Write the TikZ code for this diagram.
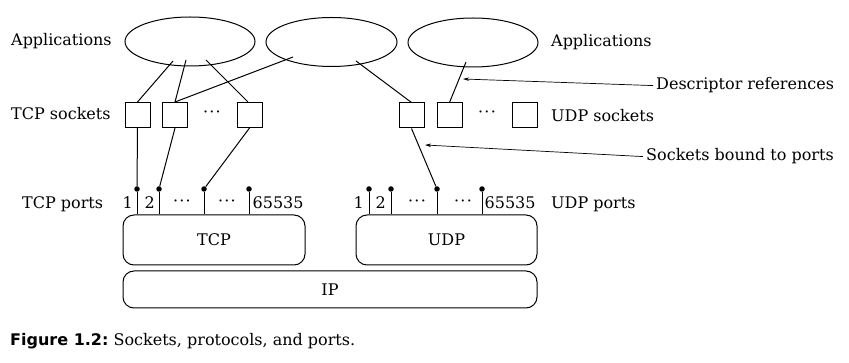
\documentclass[tikz,border=0pt]{standalone}
\usepackage{fontspec}
\setmainfont{DejaVu Serif}
\newfontfamily\capsans{DejaVu Sans}
\usetikzlibrary{shapes.geometric,arrows.meta}
\newcommand{\portdots}{·\kern1.2pt·\kern1.2pt·}
\begin{document}
\begin{tikzpicture}[x=1pt,y=-1pt,
  every node/.style={font=\fontsize{16}{19}\selectfont},
  app/.style={draw, ellipse, minimum width=130, minimum height=49, inner sep=0, line width=1pt},
  sock/.style={draw, minimum size=25, inner sep=0, line width=1pt},
  proto/.style={draw, rounded corners=11, line width=1pt, inner sep=0},
  link/.style={line width=1pt},
  port/.style={circle, fill, inner sep=0, minimum size=5.5},
  note/.style={line width=0.7pt, -{Stealth[length=6,width=3.5]}},
  lbl/.style={inner sep=0, anchor=base west},
  plbl/.style={inner sep=0}
]
\useasboundingbox (0,0) rectangle (849,363);

% applications
\node[app] (app1) at (190,41.5) {};
\node[app, minimum width=131] (app2) at (331.5,42) {};
\node[app] (app3) at (473,42.5) {};

% sockets
\node[sock] (t1) at (137.5,115) {};
\node[sock] (t2) at (175,115) {};
\node[plbl, anchor=base] (tdots) at (212,118) {\portdots};
\node[sock] (t3) at (249.5,115) {};
\node[sock] (u1) at (411.5,115.5) {};
\node[sock] (u2) at (449.5,115.5) {};
\node[plbl, anchor=base] (udots) at (487,118) {\portdots};
\node[sock] (u3) at (525,115.5) {};

% protocol boxes
\node[proto, minimum width=182, minimum height=50] (tcp) at (214,240) {TCP};
\node[proto, minimum width=181, minimum height=50] (udp) at (446.5,240) {UDP};
\node[proto, minimum width=414, minimum height=37] (ip) at (330,289.5) {IP};

% ports
\node[port] (tp1) at (137,189) {};
\node[port] (tp2) at (159,189) {};
\node[port] (tp3) at (204,189) {};
\node[port] (tp4) at (249,189) {};
\node[port] (up1) at (369,189) {};
\node[port] (up2) at (391,189) {};
\node[port] (up3) at (437,189) {};
\node[port] (up4) at (482,189) {};
\foreach \p in {tp1,tp2,tp3,tp4}
  \draw[link] (\p) -- (\p |- tcp.north);
\foreach \p in {up1,up2,up3,up4}
  \draw[link] (\p) -- (\p |- udp.north);

% port numbers
\node[plbl, anchor=base east] at (133,209) {1};
\node[plbl, anchor=base east] at (155,209) {2};
\node[plbl, anchor=base] at (182,207) {\portdots};
\node[plbl, anchor=base] at (227,207) {\portdots};
\node[plbl, anchor=base west] at (252.5,209) {65535};
\node[plbl, anchor=base east] at (364,209) {1};
\node[plbl, anchor=base east] at (386,209) {2};
\node[plbl, anchor=base] at (417,207) {\portdots};
\node[plbl, anchor=base] at (463,207) {\portdots};
\node[plbl, anchor=base west] at (484.5,209) {65535};

% descriptor references: application to socket
\coordinate (a1a) at ([shift={(-17,19.5)}]app1.center);
\coordinate (a1b) at ([shift={(-4,18.5)}]app1.center);
\coordinate (a1c) at ([shift={(16,18.5)}]app1.center);
\coordinate (a2a) at ([shift={(-38.5,15)}]app2.center);
\coordinate (a2b) at ([shift={(24.5,19)}]app2.center);
\coordinate (a3a) at ([shift={(-7,19.5)}]app3.center);
\draw[link] (a1a) -- (t1.north);
\draw[link] (a1b) -- (t2.north);
\draw[link] (a1c) -- ([xshift=-1.5]t3.north);
\draw[link] (a2a) -- (t2.north);
\draw[link] (a2b) -- (u1.north);
\draw[link] (a3a) -- (u2.north);

% sockets bound to ports
\draw[link] (t1.south) -- (tp1);
\draw[link] (t2.south) -- (tp2);
\draw[link] (t3.south) -- (tp3);
\draw[link] (u1.south) -- (up3);

% side labels
\node[lbl] (lapp) at (11,46) {Applications};
\node[lbl] (lapp2) at (551,47) {Applications};
\node[lbl] (ltsock) at (11,120) {TCP sockets};
\node[lbl] (lusock) at (551,122) {UDP sockets};
\node[lbl] (ltport) at (22,209) {TCP ports};
\node[lbl] (luport) at (551,209) {UDP ports};
\node[lbl] (ldesc) at (656,90) {Descriptor references};
\node[lbl] (lbound) at (646,161) {Sockets bound to ports};

% annotation arrows
\coordinate (descTip) at (463,79);
\coordinate (boundTip) at (425,145);
\draw[note] ([xshift=-3]ldesc.west) -- (descTip);
\draw[note] ([xshift=-3]lbound.west) -- (boundTip);

% caption
\node[lbl] (cap) at (10,346) {{\capsans\bfseries Figure 1.2:}\ Sockets, protocols, and ports.};
\end{tikzpicture}
\end{document}
